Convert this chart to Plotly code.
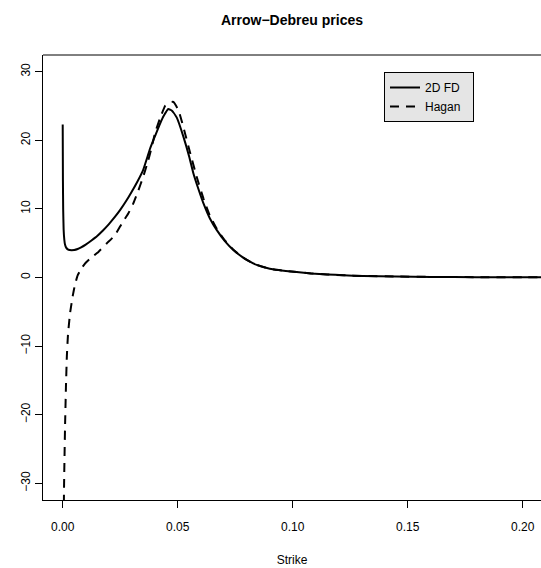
import plotly.graph_objects as go

# 2D finite-difference Arrow-Debreu prices
strike_fd = [0.0, 0.0001, 0.0002, 0.0004, 0.0007, 0.001, 0.0015, 0.0022, 0.003, 0.0039,
             0.005, 0.0065, 0.008, 0.01, 0.0125, 0.015, 0.0175, 0.02, 0.0225, 0.025,
             0.0275, 0.03, 0.0325, 0.035, 0.038, 0.040, 0.0423, 0.044, 0.0459, 0.0475,
             0.0496, 0.0525, 0.055, 0.0568, 0.059, 0.0612, 0.064, 0.067, 0.0705, 0.0742,
             0.078, 0.0814, 0.0843, 0.088, 0.092, 0.097, 0.1017, 0.108, 0.115, 0.122,
             0.1306, 0.145, 0.16, 0.18, 0.2, 0.21]
price_fd = [22.3, 14.0, 10.0, 7.0, 5.5, 4.8, 4.35, 4.1, 4.0, 3.98,
            4.0, 4.15, 4.4, 4.8, 5.4, 6.05, 6.85, 7.75, 8.75, 9.85,
            11.1, 12.5, 14.0, 15.7, 18.8, 20.5, 22.4, 23.6, 24.55, 24.3,
            23.3, 20.5, 17.6, 15.2, 12.9, 10.8, 8.6, 6.9, 5.3, 4.0,
            3.0, 2.3, 1.85, 1.45, 1.15, 0.95, 0.8, 0.6, 0.45, 0.33,
            0.22, 0.14, 0.09, 0.05, 0.03, 0.02]

# Hagan approximation
strike_hagan = [0.0003, 0.0006, 0.0010, 0.0014, 0.0018, 0.0023, 0.0032, 0.0044, 0.0053,
                0.0065, 0.0083, 0.0100, 0.0119, 0.0155, 0.0191, 0.0227, 0.0257, 0.0285,
                0.0307, 0.0329, 0.035, 0.0372, 0.0387, 0.0401, 0.0423, 0.0445, 0.0462,
                0.0481, 0.0503, 0.0524, 0.0553, 0.0583, 0.0612, 0.064, 0.067, 0.0705,
                0.0742, 0.078, 0.0814, 0.0843, 0.088, 0.092, 0.097, 0.1017, 0.108, 0.115,
                0.122, 0.1306, 0.145, 0.16, 0.18, 0.2, 0.21]
price_hagan = [-40.0, -30.0, -22.0, -16.0, -11.5, -8.3, -5.2, -2.6, -1.1,
               0.3, 1.4, 2.15, 2.77, 3.73, 4.96, 6.17, 7.87, 9.33,
               10.8, 12.7, 14.7, 17.1, 19.0, 21.0, 23.2, 25.0, 25.5,
               25.6, 24.4, 22.0, 18.3, 14.6, 11.5, 9.0, 7.1, 5.4,
               4.05, 3.0, 2.3, 1.85, 1.45, 1.15, 0.95, 0.8, 0.6, 0.45,
               0.33, 0.22, 0.14, 0.09, 0.05, 0.03, 0.02]

x_ticks = [0.0, 0.05, 0.10, 0.15, 0.20]
x_labels = ["0.00", "0.05", "0.10", "0.15", "0.20"]
y_ticks = [-30, -20, -10, 0, 10, 20, 30]
y_labels = ["\u221230", "\u221220", "\u221210", "0", "10", "20", "30"]
series_names = ["2D FD", "Hagan"]

FONT = "Liberation Sans, Arial, Helvetica, sans-serif"
PAD = "\u00a0\u00a0"

fig = go.Figure()
fig.add_trace(go.Scatter(x=strike_fd, y=price_fd, mode="lines", name=series_names[0] + PAD,
                         line=dict(color="black", width=2, shape="spline", smoothing=0.4)))
fig.add_trace(go.Scatter(x=strike_hagan, y=price_hagan, mode="lines",
                         name=series_names[1] + PAD,
                         line=dict(color="black", width=2, dash="9px,7px",
                                   shape="spline", smoothing=0.4)))

fig.update_layout(
    width=541, height=568,
    margin=dict(l=43, r=0, t=55, b=68),
    paper_bgcolor="white", plot_bgcolor="white",
    font=dict(family=FONT, size=12, color="black"),
    title=dict(text="<b>Arrow\u2212Debreu prices</b>", x=292 / 541, xanchor="center",
               y=1 - 20 / 568, yanchor="middle", font=dict(size=14, family=FONT)),
    xaxis=dict(range=[-0.00857, 0.20795], tickvals=x_ticks, ticktext=x_labels,
               ticks="outside", ticklen=7, tickcolor="black", showgrid=False,
               zeroline=False, showline=True, linecolor="black", linewidth=1,
               ticklabelstandoff=9,
               title=dict(text="Strike", standoff=22, font=dict(size=12))),
    yaxis=dict(range=[-32.43, 32.43], tickvals=y_ticks, ticktext=y_labels,
               ticks="outside", ticklen=7, tickcolor="black", showgrid=False,
               zeroline=False, showline=True, linecolor="black", linewidth=1,
               tickangle=-90),
    legend=dict(x=(384 - 43) / 498, y=(500 - 72) / 445, xanchor="left", yanchor="top",
                bgcolor="#e5e5e5", bordercolor="black", borderwidth=1,
                font=dict(size=12, family=FONT)),
    shapes=[dict(type="line", xref="paper", yref="paper", x0=0, x1=1, y0=1, y1=1,
                 line=dict(color="black", width=1))],
)

fig.write_html("out.html")
